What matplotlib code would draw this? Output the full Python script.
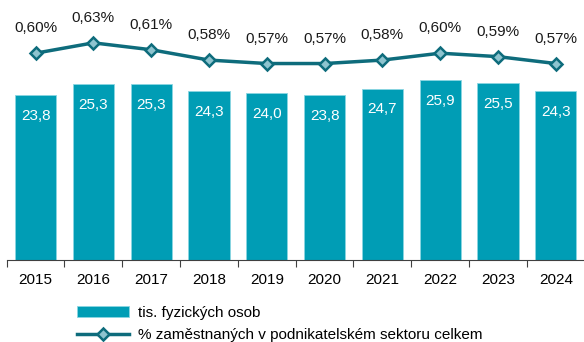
import matplotlib.pyplot as plt

plt.rcParams['font.family'] = ['Liberation Sans', 'DejaVu Sans']
plt.rcParams['font.size'] = 11

years = ['2015', '2016', '2017', '2018', '2019', '2020', '2021', '2022', '2023', '2024']
osoby = [23.8, 25.3, 25.3, 24.3, 24.0, 23.8, 24.7, 25.9, 25.5, 24.3]
podil = [0.60, 0.63, 0.61, 0.58, 0.57, 0.57, 0.58, 0.60, 0.59, 0.57]

bar_color = '#009DB5'
line_color = '#0E6C7C'
x = list(range(len(years)))

fig = plt.figure(figsize=(5.84, 3.42), dpi=100)
ax = fig.add_axes([6.7 / 584, 1 - 260 / 342, 578 / 584, 243 / 342])

bars = ax.bar(x, osoby, width=0.71, color=bar_color, edgecolor='#8AD6E2',
              linewidth=0.6, label='tis. fyzických osob', zorder=2)
for xi, v in zip(x, osoby):
    ax.annotate(f'{v:.1f}'.replace('.', ','), (xi, v), xytext=(0, -15),
                textcoords='offset points', ha='center', va='center',
                color='white', fontsize=11)

ax.set_xlim(-0.5, len(years) - 0.5)
ax.set_ylim(0, 35)
ax.set_yticks([])
ax.set_xticks(x)
ax.set_xticklabels(years)
ax.set_xticks([i - 0.5 for i in range(len(years) + 1)], minor=True)
ax.tick_params(axis='x', which='major', length=0, pad=9, labelsize=11)
ax.tick_params(axis='x', which='minor', length=5, color='#404040', width=0.8)
for s in ['top', 'right', 'left']:
    ax.spines[s].set_visible(False)
ax.spines['bottom'].set_color('#404040')
ax.spines['bottom'].set_linewidth(0.8)

ax2 = ax.twinx()
ax2.set_ylim(0, 0.705)
line, = ax2.plot(x, podil, color=line_color, linewidth=2.5, marker='D',
                 markersize=6.5, markerfacecolor='#8EC4CF',
                 markeredgecolor=line_color, markeredgewidth=1.8,
                 label='% zaměstnaných v podnikatelském sektoru celkem', zorder=3)
for xi, v in zip(x, podil):
    ax2.annotate(f'{v:.2f}'.replace('.', ',') + '%', (xi, v), xytext=(0, 18),
                 textcoords='offset points', ha='center', va='center',
                 color='#1a1a1a', fontsize=11)
ax2.set_yticks([])
for s in ax2.spines.values():
    s.set_visible(False)

fig.legend(handles=[bars, line], loc='upper left',
           bbox_to_anchor=(77 / 584, 1 - 306 / 342), frameon=False,
           borderpad=0, borderaxespad=0, handlelength=3.4,
           handletextpad=0.6, labelspacing=0.55, fontsize=11)

fig.savefig('out.png', dpi=100)
